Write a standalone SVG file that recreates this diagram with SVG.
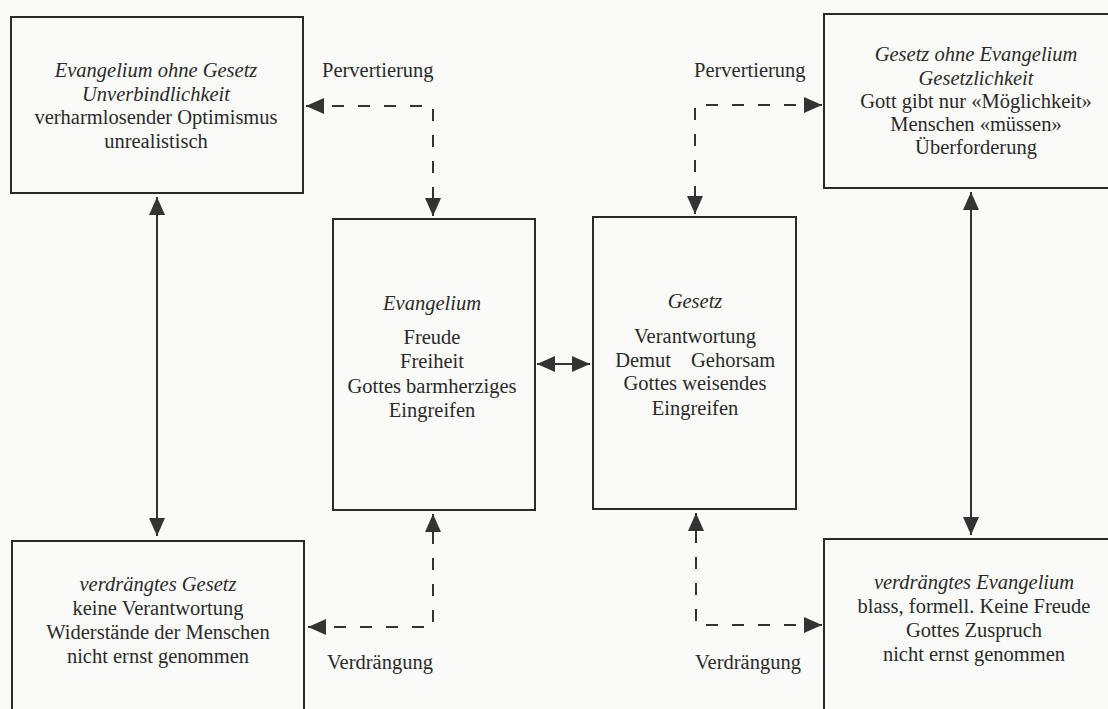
<svg xmlns="http://www.w3.org/2000/svg" width="1108" height="709" viewBox="0 0 1108 709">
<style>
.box{fill:none;stroke:#2a2a2a;stroke-width:2}
.t{font-family:"Liberation Serif","Times New Roman",serif;font-size:20.5px;fill:#2a2a2a;text-anchor:middle}
.i{font-style:italic}
.lbl{font-family:"Liberation Serif","Times New Roman",serif;font-size:20.5px;fill:#2a2a2a}
.solid{fill:none;stroke:#333;stroke-width:2}
.dash{fill:none;stroke:#333;stroke-width:2;stroke-dasharray:12 14}
</style>
<defs>
<marker id="ah" viewBox="0 0 18 16" refX="18" refY="8" markerWidth="18" markerHeight="16" markerUnits="userSpaceOnUse" orient="auto-start-reverse">
<path d="M0,0 L18,8 L0,16 z" fill="#333"/>
</marker>
</defs>
<rect width="1108" height="709" fill="#fafaf8"/>

<g id="connectors">
<path class="dash" d="M306,106 H433 V216" marker-start="url(#ah)" marker-end="url(#ah)"/>
<path class="dash" d="M822,105 H695 V214" marker-start="url(#ah)" marker-end="url(#ah)"/>
<path class="dash" d="M308,627 H433 V514" marker-start="url(#ah)" marker-end="url(#ah)"/>
<path class="dash" d="M822,625 H696 V513" marker-start="url(#ah)" marker-end="url(#ah)"/>
<path class="solid" d="M157,197 V536" marker-start="url(#ah)" marker-end="url(#ah)"/>
<path class="solid" d="M971,192 V535" marker-start="url(#ah)" marker-end="url(#ah)"/>
<path class="solid" d="M537,364 H590" marker-start="url(#ah)" marker-end="url(#ah)"/>
<text class="lbl" x="322" y="77">Pervertierung</text>
<text class="lbl" x="694" y="77">Pervertierung</text>
<text class="lbl" x="327" y="669">Verdrängung</text>
<text class="lbl" x="695" y="669">Verdrängung</text>
</g>

<g id="evangelium-ohne-gesetz">
<rect class="box" x="11" y="17" width="292" height="176"/>
<text class="t i" x="156" y="77">Evangelium ohne Gesetz</text>
<text class="t i" x="156" y="100.5">Unverbindlichkeit</text>
<text class="t" x="156" y="124">verharmlosender Optimismus</text>
<text class="t" x="156" y="148">unrealistisch</text>
</g>

<g id="gesetz-ohne-evangelium">
<rect class="box" x="824" y="14" width="310" height="174"/>
<text class="t i" x="976" y="61">Gesetz ohne Evangelium</text>
<text class="t i" x="976" y="84.5">Gesetzlichkeit</text>
<text class="t" x="976" y="108">Gott gibt nur «Möglichkeit»</text>
<text class="t" x="976" y="131">Menschen «müssen»</text>
<text class="t" x="976" y="154">Überforderung</text>
</g>

<g id="evangelium">
<rect class="box" x="333" y="219" width="202" height="291"/>
<text class="t i" x="432" y="310">Evangelium</text>
<text class="t" x="432" y="344">Freude</text>
<text class="t" x="432" y="368">Freiheit</text>
<text class="t" x="432" y="393">Gottes barmherziges</text>
<text class="t" x="432" y="417">Eingreifen</text>
</g>

<g id="gesetz">
<rect class="box" x="593" y="217" width="203" height="292"/>
<text class="t i" x="695" y="308">Gesetz</text>
<text class="t" x="695" y="343">Verantwortung</text>
<text class="t" x="671" y="367" style="text-anchor:end">Demut</text>
<text class="t" x="691" y="367" style="text-anchor:start">Gehorsam</text>
<text class="t" x="695" y="390">Gottes weisendes</text>
<text class="t" x="695" y="415">Eingreifen</text>
</g>

<g id="verdraengtes-gesetz">
<rect class="box" x="12" y="541" width="292" height="200"/>
<text class="t i" x="158" y="591">verdrängtes Gesetz</text>
<text class="t" x="158" y="615">keine Verantwortung</text>
<text class="t" x="158" y="639">Widerstände der Menschen</text>
<text class="t" x="158" y="663">nicht ernst genommen</text>
</g>

<g id="verdraengtes-evangelium">
<rect class="box" x="824" y="539" width="310" height="200"/>
<text class="t i" x="974" y="589">verdrängtes Evangelium</text>
<text class="t" x="974" y="613">blass, formell. Keine Freude</text>
<text class="t" x="974" y="637">Gottes Zuspruch</text>
<text class="t" x="974" y="661">nicht ernst genommen</text>
</g>
</svg>
